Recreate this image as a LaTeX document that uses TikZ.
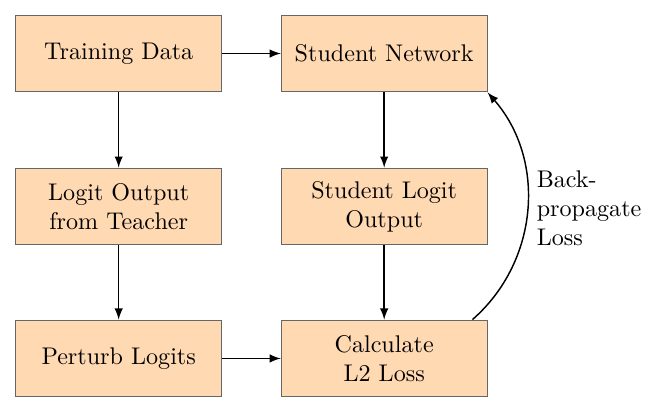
\documentclass[tikz,border=0pt]{standalone}
\usetikzlibrary{arrows}
\begin{document}
\begin{tikzpicture}[>=latex,
    box/.style={draw=black!60, fill=orange!30, minimum width=3cm, minimum height=1.12cm, align=center}]
    \useasboundingbox (0,0) rectangle (9.46,5.99);

    \node[box] (train) at (1.73,5.21) {Training Data};
    \node[box] (teacher) at (1.73,2.98) {Logit Output\\from Teacher};
    \node[box] (perturb) at (1.73,0.765) {Perturb Logits};

    \node[box] (student) at (5.60,5.21) {Student Network};
    \node[box] (slogit) at (5.60,2.98) {Student Logit\\Output};
    \node[box] (loss) at (5.60,0.765) {Calculate\\L2 Loss};

    \draw[->, semithick] (train) -- (student);
    \draw[->, semithick] (train) -- (teacher);
    \draw[->, semithick] (teacher) -- (perturb);
    \draw[->, semithick] (perturb) -- (loss);
    \draw[->, semithick] (student) -- (slogit);
    \draw[->, semithick] (slogit) -- (loss);

    \coordinate (bp) at ([xshift=-0.22cm]loss.north east);
    \draw[->, semithick] (bp) to[bend right=45] (student.south east);
    \node[anchor=west, align=left] (bplabel) at (7.70,2.95) {Back-\\propagate\\Loss};
\end{tikzpicture}
\end{document}
